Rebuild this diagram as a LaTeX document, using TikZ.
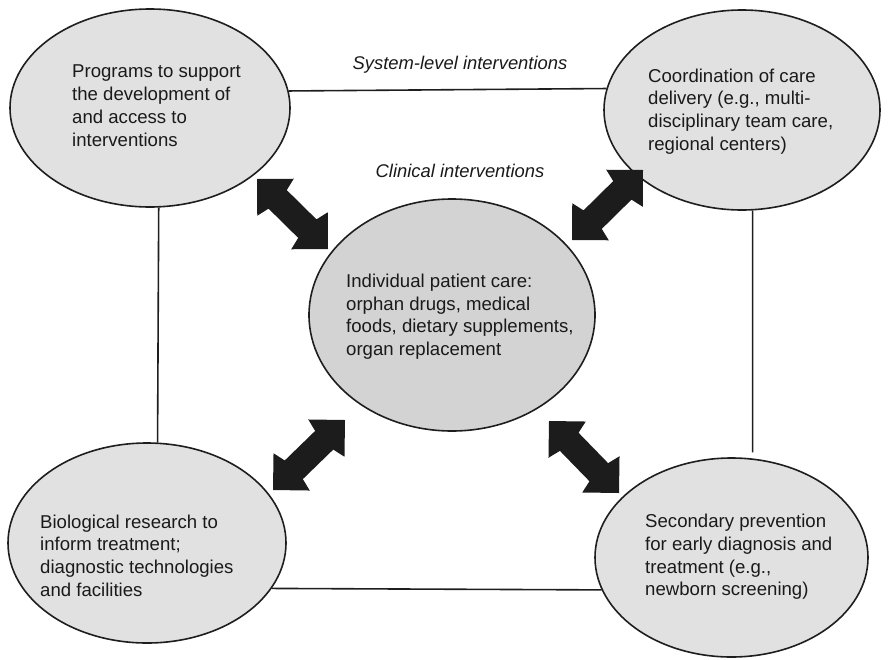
\documentclass[tikz,border=0pt]{standalone}
\usepackage{fontspec}
\setmainfont{Liberation Sans}
\usetikzlibrary{calc,shapes.geometric}
\definecolor{ellfill}{HTML}{E1E1E1}
\definecolor{cenfill}{HTML}{D3D3D3}
\definecolor{edgec}{HTML}{1E1E1E}
\definecolor{arrowc}{HTML}{1C1C1C}
\definecolor{txtc}{HTML}{1A1A1A}
\newcommand\dblarrow[2]{%
  \fill[arrowc] (#1)
    -- ($(#1)!26pt!(#2)!26pt!90:(#2)$)
    -- ($(#1)!29pt!(#2)!13pt!90:(#2)$)
    -- ($(#2)!29pt!(#1)!13pt!-90:(#1)$)
    -- ($(#2)!26pt!(#1)!26pt!-90:(#1)$)
    -- (#2)
    -- ($(#2)!26pt!(#1)!26pt!90:(#1)$)
    -- ($(#2)!29pt!(#1)!13pt!90:(#1)$)
    -- ($(#1)!29pt!(#2)!13pt!-90:(#2)$)
    -- ($(#1)!26pt!(#2)!26pt!-90:(#2)$)
    -- cycle;}
\tikzset{
  ell/.style={ellipse, draw=edgec, line width=1.6pt, fill=ellfill, inner sep=0pt},
  cen/.style={ell, fill=cenfill},
  conn/.style={draw=edgec, line width=1.6pt},
  txt/.style={font=\fontsize{18.6}{22.7}\selectfont, align=left, inner sep=0pt, anchor=north west, text=txtc},
  lbl/.style={font=\fontsize{18.4}{22}\selectfont\itshape, inner sep=0pt, anchor=base, text=txtc}
}
\begin{document}
\begin{tikzpicture}[x=1pt,y=-1pt]
\useasboundingbox (0,0) rectangle (891,659);
% ellipses
\node[ell, minimum width=280pt, minimum height=198pt] (tl) at (150,108) {};
\node[ell, minimum width=276pt, minimum height=200pt] (tr) at (742,110) {};
\node[cen, minimum width=286pt, minimum height=232pt] (c) at (452,315) {};
\node[ell, minimum width=278pt, minimum height=200pt] (bl) at (147,543) {};
\node[ell, minimum width=273pt, minimum height=199pt] (br) at (731.5,557.5) {};
% connectors
\draw[conn] (tl.7.45) -- (tr.171.6);
\draw[conn] (tl.-85.95) -- (bl.84.3);
\draw[conn, shorten >=6pt] (tr.-84.3) -- (br.78.2);
\draw[conn] (bl.-20.96) -- (br.194.1);
% texts
\node[txt] (tlt) at (72,64.9) {Programs to support\\the development of\\and access to\\interventions};
\node[txt] (trt) at (648,68.6) {Coordination of care\\delivery (e.g., multi-\\disciplinary team care,\\regional centers)};
\node[txt] (ct) at (346,273.9) {Individual patient care:\\orphan drugs, medical\\foods, dietary supplements,\\organ replacement};
\node[txt] (blt) at (40,514.6) {Biological research to\\inform treatment;\\diagnostic technologies\\and facilities};
\node[txt] (brt) at (645,514.1) {Secondary prevention\\for early diagnosis and\\treatment (e.g.,\\newborn screening)};
\node[lbl] (sys) at (460,69.3) {System-level interventions};
\node[lbl] (clin) at (460,177.6) {Clinical interventions};
% arrows
\coordinate (a1s) at (257,179); \coordinate (a1e) at (328,249);
\coordinate (a2s) at (572,240); \coordinate (a2e) at (643,170);
\coordinate (a3s) at (273,490); \coordinate (a3e) at (345,420);
\coordinate (a4s) at (549,421); \coordinate (a4e) at (619,493);
\dblarrow{a1s}{a1e}
\dblarrow{a2s}{a2e}
\dblarrow{a3s}{a3e}
\dblarrow{a4s}{a4e}
\end{tikzpicture}
\end{document}
